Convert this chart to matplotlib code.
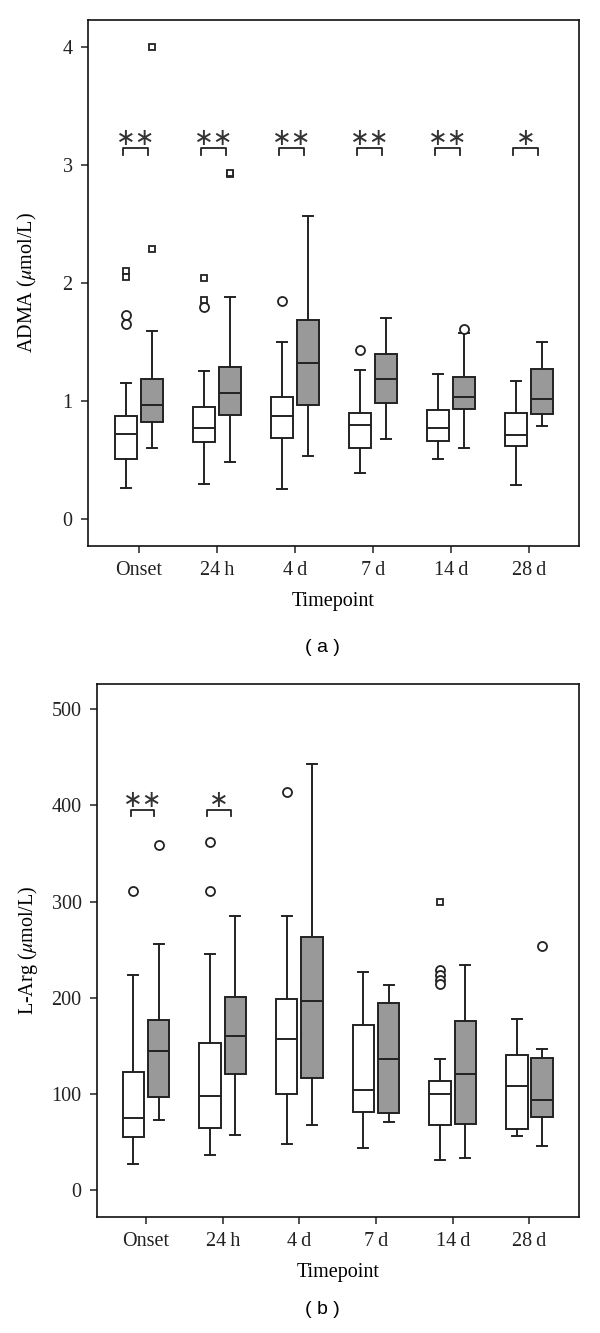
import numpy as np
import matplotlib
matplotlib.use("Agg")
import matplotlib.pyplot as plt

plt.rcParams['font.family'] = ['Liberation Serif', 'DejaVu Serif']
plt.rcParams['mathtext.fontset'] = 'stix'

timepoints = ['Onset', '24\u2009h', '4\u2009d', '7\u2009d', '14\u2009d', '28\u2009d']

# panel (a) ADMA: [whislo, q1, med, q3, whishi] per timepoint
adma_white = [[0.26, 0.51, 0.72, 0.875, 1.15],
              [0.30, 0.65, 0.77, 0.95, 1.25],
              [0.25, 0.69, 0.87, 1.03, 1.50],
              [0.39, 0.60, 0.80, 0.90, 1.26],
              [0.51, 0.66, 0.77, 0.92, 1.23],
              [0.29, 0.62, 0.71, 0.90, 1.17]]
adma_gray = [[0.60, 0.82, 0.97, 1.19, 1.59],
             [0.48, 0.88, 1.07, 1.29, 1.88],
             [0.53, 0.97, 1.32, 1.69, 2.57],
             [0.68, 0.98, 1.19, 1.40, 1.70],
             [0.60, 0.93, 1.03, 1.20, 1.58],
             [0.79, 0.89, 1.02, 1.27, 1.50]]
adma_white_circ = [[1.73, 1.65], [1.80], [1.85], [1.43], [], []]
adma_gray_circ = [[], [], [], [], [1.61], []]
adma_white_sq = [[2.10, 2.05], [2.04, 1.86], [], [], [], []]
adma_gray_sq = [[4.0, 2.29], [2.92, 2.93], [], [], [], []]
adma_sig = ['\u2217\u2217', '\u2217\u2217', '\u2217\u2217', '\u2217\u2217', '\u2217\u2217', '\u2217']

# panel (b) L-Arg
larg_white = [[27, 55, 75, 123, 224],
              [37, 65, 98, 153, 246],
              [48, 100, 157, 199, 285],
              [44, 81, 104, 172, 227],
              [32, 68, 100, 114, 136],
              [56, 64, 108, 141, 178]]
larg_gray = [[73, 97, 145, 177, 256],
             [58, 121, 160, 201, 285],
             [68, 117, 197, 263, 443],
             [71, 80, 136, 195, 213],
             [34, 69, 121, 176, 234],
             [46, 76, 94, 137, 147]]
larg_white_circ = [[311], [362, 311], [414], [], [229, 224, 219, 214], []]
larg_gray_circ = [[359], [], [], [], [], [254]]
larg_white_sq = [[], [], [], [], [300], []]
larg_gray_sq = [[], [], [], [], [], []]
larg_sig = ['\u2217\u2217', '\u2217', '', '', '', '']

edge = '#222222'
gray = '#999999'


def boxes(ax, vals, circ, sq, pos, fc):
    stats = []
    for v, c in zip(vals, circ):
        stats.append(dict(whislo=v[0], q1=v[1], med=v[2], q3=v[3], whishi=v[4], fliers=c))
    lw = 1.4
    ax.bxp(stats, positions=pos, widths=0.28, patch_artist=True, capwidths=0.13,
           boxprops=dict(facecolor=fc, edgecolor=edge, linewidth=lw),
           medianprops=dict(color=edge, linewidth=lw),
           whiskerprops=dict(color=edge, linewidth=lw),
           capprops=dict(color=edge, linewidth=lw),
           flierprops=dict(marker='o', markerfacecolor='white', markeredgecolor=edge,
                           markersize=6.5, markeredgewidth=1.3))
    for p, s in zip(pos, sq):
        if s:
            ax.plot([p] * len(s), s, 's', mfc='white', mec=edge, ms=5, mew=1.3)


def panel(ax, white, gray_, wc, gc, ws, gs, sig, ybr, dy, ylabel, yticks):
    x = np.arange(len(timepoints))
    boxes(ax, white, wc, ws, x - 0.165, 'white')
    boxes(ax, gray_, gc, gs, x + 0.165, gray)
    for xi, s in zip(x, sig):
        if not s:
            continue
        l, r = xi - 0.2, xi + 0.11
        ax.plot([l, l, r, r], [ybr - dy, ybr, ybr, ybr - dy], color=edge, lw=1.3)
        ax.annotate(s, ((l + r) / 2, ybr), xytext=(0, 2.5), textcoords='offset points',
                    ha='center', va='baseline', fontsize=17, family='DejaVu Sans',
                    color='#333333')
    ax.set_xticks(x)
    ax.set_xticklabels(timepoints)
    ax.set_yticks(yticks)
    ax.tick_params(direction='out', length=5, width=1.1, labelsize=14.5, pad=6,
                   top=False, right=False, colors='#222222')
    for sp in ax.spines.values():
        sp.set_linewidth(1.2)
        sp.set_color('#111111')
    ax.set_ylabel(ylabel, fontsize=14.5)
    ax.set_xlabel('Timepoint', fontsize=14.5)


fig = plt.figure(figsize=(6, 13.33), dpi=100)

ax_a = fig.add_axes([88 / 600, 1 - 546 / 1333, (579 - 88) / 600, (546 - 20) / 1333])
panel(ax_a, adma_white, adma_gray, adma_white_circ, adma_gray_circ,
      adma_white_sq, adma_gray_sq, adma_sig, 3.14, 0.055,
      r'ADMA ($\mu$mol/L)', [0, 1, 2, 3, 4])
ax_a.set_xlim(-0.654, 5.64)
ax_a.set_ylim(-0.229, 4.229)
ax_a.yaxis.set_label_coords(-0.10, 0.5)
ax_a.xaxis.set_label_coords(0.5, -0.088)

ax_b = fig.add_axes([97 / 600, 1 - 1217 / 1333, (579 - 97) / 600, (1217 - 684) / 1333])
panel(ax_b, larg_white, larg_gray, larg_white_circ, larg_gray_circ,
      larg_white_sq, larg_gray_sq, larg_sig, 395, 6,
      r'L-Arg ($\mu$mol/L)', [0, 100, 200, 300, 400, 500])
ax_b.set_xlim(-0.639, 5.646)
ax_b.set_ylim(-27.7, 526)
ax_b.yaxis.set_label_coords(-0.118, 0.5)
ax_b.xaxis.set_label_coords(0.5, -0.086)

fig.text(322 / 600, 1 - 647 / 1333, '( a )', ha='center', va='center',
         fontsize=14, family='Liberation Sans')
fig.text(322 / 600, 1 - 1310 / 1333, '( b )', ha='center', va='center',
         fontsize=14, family='Liberation Sans')

fig.savefig('out.png', dpi=100)
